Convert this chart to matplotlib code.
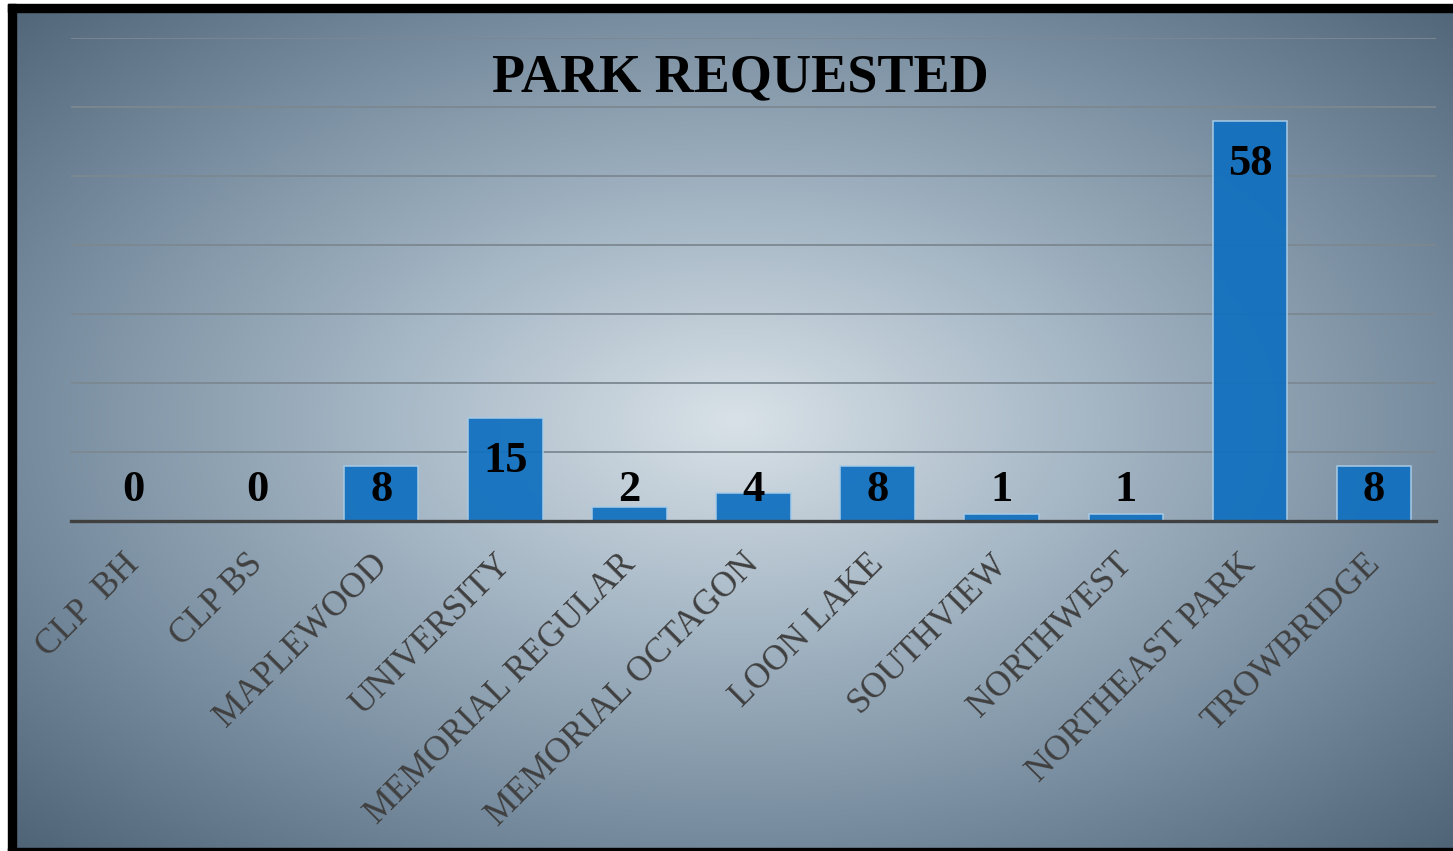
import numpy as np
import matplotlib.pyplot as plt
from matplotlib.patches import Rectangle
from matplotlib.colors import LinearSegmentedColormap
import matplotlib.transforms as mtransforms

parks = ['CLP  BH', 'CLP BS', 'MAPLEWOOD', 'UNIVERSITY', 'MEMORIAL REGULAR',
         'MEMORIAL OCTAGON', 'LOON LAKE', 'SOUTHVIEW', 'NORTHWEST',
         'NORTHEAST PARK', 'TROWBRIDGE']
requests = [0, 0, 8, 15, 2, 4, 8, 1, 1, 58, 8]

W, H = 1453, 851
fig = plt.figure(figsize=(W / 100, H / 100), dpi=100)
fig.patch.set_facecolor('white')

# radial gradient background
bg = fig.add_axes([16 / W, 3 / H, (W - 16) / W, (H - 15) / H])
bg.set_axis_off()
yy, xx = np.mgrid[0:400, 0:700]
cx, cy = (735 - 16) / (W - 16) * 700, (420 - 12) / (H - 15) * 400
r = np.sqrt(((xx - cx) / 700) ** 2 + ((yy - cy) / 400) ** 2)
r = r / r.max()
cmap = LinearSegmentedColormap.from_list('bg', ['#d8e1e7', '#a7b8c6', '#7a8fa1', '#506478'])
bg.imshow(r, cmap=cmap, aspect='auto', interpolation='bilinear')

# black frame (left, top, bottom)
fig.patches.append(Rectangle((8 / W, 0), 8 / W, (H - 4) / H, transform=fig.transFigure,
                             color='black', zorder=5))
fig.patches.append(Rectangle((8 / W, (H - 12) / H), (W - 8) / W, 8 / H,
                             transform=fig.transFigure, color='black', zorder=5))
fig.patches.append(Rectangle((8 / W, 0), (W - 8) / W, 3 / H, transform=fig.transFigure,
                             color='black', zorder=5))

ax = fig.add_axes([71 / W, (H - 521) / H, 1365 / W, 483 / H])
ax.patch.set_alpha(0)
x = np.arange(len(parks))
ax.bar(x, requests, width=0.6, color='#0f6fbf', alpha=0.92,
       edgecolor='#a8cbe6', linewidth=1.2, zorder=3)
ax.set_xlim(-0.5, len(parks) - 0.5)
ax.set_ylim(0, 70)
ax.set_yticks(np.arange(10, 71, 10))
ax.yaxis.grid(True, color='#7c8891', linewidth=1.3, zorder=0)
ax.tick_params(axis='y', length=0, labelleft=False)
for s in ['top', 'right', 'left']:
    ax.spines[s].set_visible(False)
ax.spines['bottom'].set_color('#404040')
ax.spines['bottom'].set_linewidth(2.4)
ax.spines['bottom'].set_zorder(4)

ax.set_xticks(x)
ax.set_xticklabels(parks, rotation=45, ha='right', va='baseline', rotation_mode='anchor',
                   fontsize=25.5, color='#404040', family='Liberation Serif')
ax.tick_params(axis='x', length=0, pad=0)
offset = mtransforms.ScaledTranslation(5 / 72, -32 / 72, fig.dpi_scale_trans)
for lbl in ax.get_xticklabels():
    lbl.set_transform(lbl.get_transform() + offset)

for xi, v in zip(x, requests):
    ax.text(xi, max(v - 7.9, 2.9), str(v), ha='center', va='baseline',
            fontsize=32, fontweight='bold', family='Liberation Serif',
            color='black', zorder=5)

fig.text(740 / W, 1 - 91 / H, 'PARK REQUESTED', ha='center', va='baseline',
         fontsize=39, fontweight='bold', family='Liberation Serif', color='black')

fig.savefig('out.png', dpi=100)
